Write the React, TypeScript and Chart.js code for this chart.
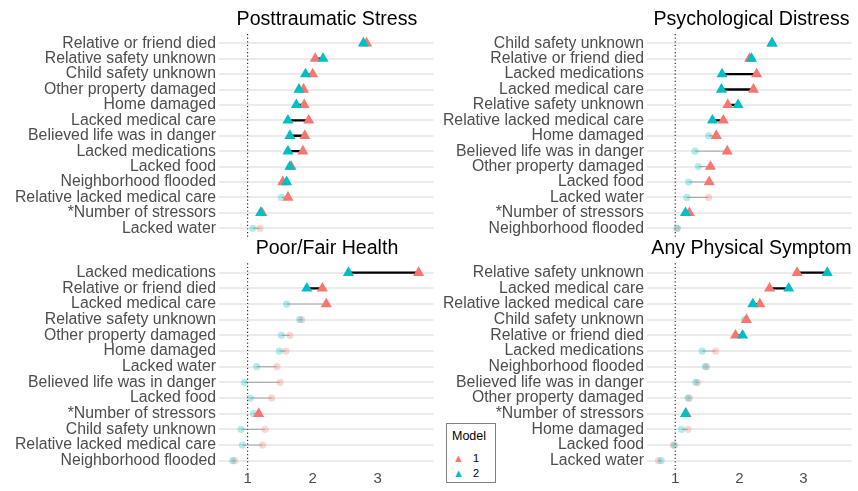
import React, { useEffect, useRef } from "react";
import { Chart, registerables } from "chart.js";
Chart.register(...registerables);

const RED = "#F8766D";
const TEAL = "#00BFC4";
const FONT = "'Liberation Sans', Arial, Helvetica, sans-serif";

// ---------- Posttraumatic Stress ----------
const ptsCats = ["Relative or friend died", "Relative safety unknown", "Child safety unknown", "Other property damaged", "Home damaged", "Lacked medical care", "Believed life was in danger", "Lacked medications", "Lacked food", "Neighborhood flooded", "Relative lacked medical care", "*Number of stressors", "Lacked water"];
const ptsModel1 = [2.83, 2.04, 2.0, 1.86, 1.87, 1.94, 1.88, 1.85, 1.67, 1.54, 1.62, 1.22, 1.19];
const ptsModel2 = [2.78, 2.16, 1.89, 1.79, 1.75, 1.62, 1.65, 1.62, 1.65, 1.6, 1.52, 1.2, 1.08];
const ptsSig1 = [1, 1, 1, 1, 1, 1, 1, 1, 1, 1, 1, 1, 0];
const ptsSig2 = [1, 1, 1, 1, 1, 1, 1, 1, 1, 1, 0, 1, 0];

// ---------- Psychological Distress ----------
const pdCats = ["Child safety unknown", "Relative or friend died", "Lacked medications", "Lacked medical care", "Relative safety unknown", "Relative lacked medical care", "Home damaged", "Believed life was in danger", "Other property damaged", "Lacked food", "Lacked water", "*Number of stressors", "Neighborhood flooded"];
const pdModel1 = [2.51, 2.16, 2.27, 2.22, 1.82, 1.75, 1.64, 1.81, 1.55, 1.53, 1.52, 1.22, 1.03];
const pdModel2 = [2.51, 2.19, 1.73, 1.72, 1.98, 1.58, 1.52, 1.31, 1.36, 1.21, 1.18, 1.16, 1.03];
const pdSig1 = [1, 1, 1, 1, 1, 1, 1, 1, 1, 1, 0, 1, 0];
const pdSig2 = [1, 1, 1, 1, 1, 1, 0, 0, 0, 0, 0, 1, 0];

// ---------- Poor/Fair Health ----------
const pfCats = ["Lacked medications", "Relative or friend died", "Lacked medical care", "Relative safety unknown", "Other property damaged", "Home damaged", "Lacked water", "Believed life was in danger", "Lacked food", "*Number of stressors", "Child safety unknown", "Relative lacked medical care", "Neighborhood flooded"];
const pfModel1 = [3.63, 2.15, 2.21, 1.83, 1.65, 1.59, 1.45, 1.5, 1.37, 1.17, 1.27, 1.23, 0.8];
const pfModel2 = [2.55, 1.91, 1.6, 1.8, 1.52, 1.49, 1.14, 0.95, 1.04, 1.09, 0.9, 0.92, 0.77];
const pfSig1 = [1, 1, 1, 0, 0, 0, 0, 0, 0, 1, 0, 0, 0];
const pfSig2 = [1, 1, 0, 0, 0, 0, 0, 0, 0, 0, 0, 0, 0];

// ---------- Any Physical Symptom ----------
const apCats = ["Relative safety unknown", "Lacked medical care", "Relative lacked medical care", "Child safety unknown", "Relative or friend died", "Lacked medications", "Neighborhood flooded", "Believed life was in danger", "Other property damaged", "*Number of stressors", "Home damaged", "Lacked food", "Lacked water"];
const apModel1 = [2.9, 2.47, 2.32, 2.11, 1.94, 1.63, 1.49, 1.35, 1.22, 1.17, 1.2, 0.97, 0.74];
const apModel2 = [3.37, 2.77, 2.21, 2.08, 2.05, 1.42, 1.47, 1.32, 1.2, 1.16, 1.1, 0.99, 0.78];
const apSig1 = [1, 1, 1, 1, 1, 0, 0, 0, 0, 1, 0, 0, 0];
const apSig2 = [1, 1, 1, 0, 1, 0, 0, 0, 0, 1, 0, 0, 0];

const xTicks = [1, 2, 3];

type Panel = {
  title: string; cats: string[]; m1: number[]; m2: number[]; s1: number[]; s2: number[];
  left: number; top: number; width: number; height: number;
  yW: number; padTop: number; padBottom: number; padRight: number; xH: number;
  xMin: number; xMax: number; showX: boolean;
};

const panels: Panel[] = [
  { title: "Posttraumatic Stress", cats: ptsCats, m1: ptsModel1, m2: ptsModel2, s1: ptsSig1, s2: ptsSig2,
    left: 0, top: 0, width: 440, height: 250, yW: 219, padTop: 34, padBottom: 9, padRight: 5, xH: 0, xMin: 0.56, xMax: 3.86, showX: false },
  { title: "Psychological Distress", cats: pdCats, m1: pdModel1, m2: pdModel2, s1: pdSig1, s2: pdSig2,
    left: 440, top: 0, width: 418, height: 250, yW: 207, padTop: 34, padBottom: 9, padRight: 2, xH: 0, xMin: 0.56, xMax: 3.75, showX: false },
  { title: "Poor/Fair Health", cats: pfCats, m1: pfModel1, m2: pfModel2, s1: pfSig1, s2: pfSig2,
    left: 0, top: 250, width: 440, height: 241, yW: 219, padTop: 13.3, padBottom: 0, padRight: 5, xH: 20.9, xMin: 0.56, xMax: 3.86, showX: true },
  { title: "Any Physical Symptom", cats: apCats, m1: apModel1, m2: apModel2, s1: apSig1, s2: apSig2,
    left: 440, top: 250, width: 418, height: 241, yW: 207, padTop: 13.3, padBottom: 0, padRight: 2, xH: 20.9, xMin: 0.56, xMax: 3.75, showX: true },
];

const refLine = {
  id: "refLine",
  beforeDatasetsDraw(chart: any) {
    const { ctx, chartArea } = chart;
    const x = chart.scales.x.getPixelForValue(1);
    ctx.save();
    ctx.setLineDash([1.2, 2.4]);
    ctx.lineWidth = 1.1;
    ctx.strokeStyle = "#222";
    ctx.beginPath();
    ctx.moveTo(x, chartArea.top);
    ctx.lineTo(x, chartArea.bottom);
    ctx.stroke();
    ctx.restore();
  },
};

function makeDatasets(p: Panel) {
  const pts1 = p.cats.map((_, i) => ({ x: p.m1[i], y: i }));
  const pts2 = p.cats.map((_, i) => ({ x: p.m2[i], y: i }));
  const tri = (pts: any[], sig: number[], color: string) => ({
    type: "scatter",
    data: pts.filter((_, i) => sig[i]),
    pointStyle: "triangle",
    pointRadius: 6.4,
    pointBorderWidth: 0,
    borderWidth: 0,
    backgroundColor: color,
    pointBackgroundColor: color,
  });
  const circ = (pts: any[], sig: number[], color: string) => ({
    type: "scatter",
    data: pts.filter((_, i) => !sig[i]),
    pointStyle: "circle",
    pointRadius: 3.6,
    pointBorderWidth: 0,
    borderWidth: 0,
    backgroundColor: color,
    pointBackgroundColor: color,
  });
  const lines = p.cats.map((_, i) => {
    const both = p.s1[i] && p.s2[i];
    return {
      type: "line",
      data: [pts1[i], pts2[i]],
      showLine: true,
      borderColor: both ? "#000000" : "rgba(110,110,110,0.55)",
      borderWidth: both ? 2.3 : 1,
      pointRadius: 0,
      pointHoverRadius: 0,
    };
  });
  return [
    tri(pts2, p.s2, TEAL),
    tri(pts1, p.s1, RED),
    circ(pts2, p.s2, "rgba(0,191,196,0.3)"),
    circ(pts1, p.s1, "rgba(248,118,109,0.3)"),
    ...lines,
  ];
}

export default function App() {
  const refs = useRef<(HTMLCanvasElement | null)[]>([]);

  useEffect(() => {
    Chart.defaults.font.family = FONT;
    const charts = panels.map((p, idx) => {
      const canvas = refs.current[idx]!;
      return new Chart(canvas, {
        type: "scatter",
        data: { datasets: makeDatasets(p) as any },
        plugins: [refLine],
        options: {
          animation: false,
          responsive: false,
          events: [],
          layout: { padding: { top: p.padTop, bottom: p.padBottom, right: p.padRight, left: 0 } },
          plugins: { legend: { display: false }, tooltip: { enabled: false }, title: { display: false } },
          scales: {
            x: {
              type: "linear",
              min: p.xMin,
              max: p.xMax,
              display: p.showX,
              grid: { display: false, drawTicks: false },
              border: { display: false },
              afterBuildTicks: (s: any) => { s.ticks = xTicks.map((v) => ({ value: v })); },
              afterFit: (s: any) => { s.height = p.xH; },
              ticks: {
                padding: 0,
                color: "#4d4d4d",
                font: { size: 15, family: FONT },
                callback: (v: any) => String(v),
              },
            },
            y: {
              type: "linear",
              reverse: true,
              min: -0.6,
              max: p.cats.length - 0.4,
              grid: { color: "#ebebeb", lineWidth: 2, drawTicks: false },
              border: { display: false },
              afterBuildTicks: (s: any) => { s.ticks = p.cats.map((_, i) => ({ value: i })); },
              afterFit: (s: any) => { s.width = p.yW; },
              ticks: {
                autoSkip: false,
                padding: 3,
                color: "#4d4d4d",
                font: { size: 15.8, family: FONT },
                callback: (v: any) => p.cats[v as number],
              },
            },
          },
        } as any,
      });
    });
    return () => charts.forEach((c) => c.destroy());
  }, []);

  return (
    <div style={{ position: "absolute", left: 0, top: 0, width: 858, height: 491, background: "#fff", fontFamily: FONT }}>
      {panels.map((p, idx) => (
        <canvas
          key={"c" + idx}
          ref={(el) => { refs.current[idx] = el; }}
          width={p.width}
          height={p.height}
          style={{ position: "absolute", left: p.left, top: p.top, width: p.width, height: p.height }}
        />
      ))}
      {panels.map((p, idx) => {
        const plotLeft = p.left + p.yW;
        const plotRight = p.left + p.width - p.padRight;
        const centerY = idx < 2 ? 18 : 247;
        return (
          <div
            key={"t" + idx}
            style={{
              position: "absolute",
              left: plotLeft - 40,
              width: plotRight - plotLeft + 80,
              top: centerY - 12,
              height: 24,
              lineHeight: "24px",
              textAlign: "center",
              fontSize: 19.6,
              color: "#000",
              whiteSpace: "nowrap",
            }}
          >
            {p.title}
          </div>
        );
      })}
      <div
        style={{
          position: "absolute",
          left: 446,
          top: 423,
          width: 48,
          height: 58,
          border: "1px solid #808080",
          background: "#fff",
          fontSize: 12.5,
          color: "#000",
        }}
      >
        <div style={{ position: "absolute", left: 5, top: 5, lineHeight: "14px" }}>Model</div>
        <div style={{ position: "absolute", left: 6, top: 27, lineHeight: "14px", fontSize: 11 }}>
          <span style={{ color: RED, fontSize: 11 }}>▲</span>
          <span style={{ marginLeft: 9 }}>1</span>
        </div>
        <div style={{ position: "absolute", left: 6, top: 42, lineHeight: "14px", fontSize: 11 }}>
          <span style={{ color: TEAL, fontSize: 11 }}>▲</span>
          <span style={{ marginLeft: 9 }}>2</span>
        </div>
      </div>
    </div>
  );
}
